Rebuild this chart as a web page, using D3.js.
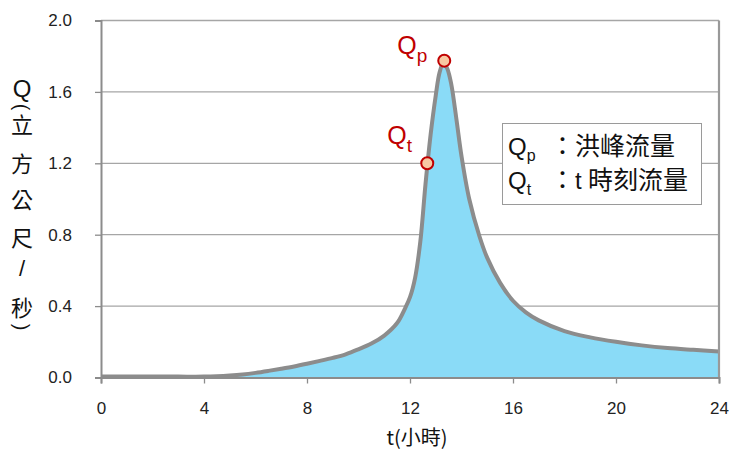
<!DOCTYPE html>
<html>
<head>
<meta charset="utf-8">
<script src="https://cdn.jsdelivr.net/npm/d3@7"></script>
<style>
  html, body { margin: 0; padding: 0; background: #fff; }
  svg { display: block; }
</style>
</head>
<body>
<svg id="chart" width="732" height="459"></svg>
<script>
// ---- data ----
const hours = [0,1,2,3,4,4.5,5,5.5,6,6.5,7,7.5,8,8.5,9,9.5,10,10.5,11,11.5,11.8,12,12.2,12.4,12.6,12.8,13,13.15,13.3,13.45,13.6,13.8,14,14.3,14.7,15,15.5,16,16.5,17,18,19,20,21,22,23,24];
const flow  = [0.005,0.005,0.005,0.005,0.005,0.007,0.011,0.017,0.026,0.037,0.049,0.062,0.077,0.093,0.11,0.13,0.158,0.19,0.235,0.305,0.385,0.45,0.56,0.76,1.08,1.36,1.58,1.71,1.765,1.73,1.645,1.45,1.24,1.0,0.79,0.67,0.53,0.43,0.365,0.32,0.26,0.225,0.2,0.18,0.165,0.155,0.146];
const xTicks = [0,4,8,12,16,20,24];
const yTicks = [0,0.4,0.8,1.2,1.6,2.0];
const markT = [12.67, 13.33];
const markQ = [1.2, 1.775];
const markSub = ["t", "p"];
const legendSubs = ["p", "t"];
const legendTexts = ["洪峰流量", "時刻流量"];
const yTitleChars = ["Q","(","立","方","公","尺","/","秒",")"];
const xTitle = "t(小時)";

// ---- layout ----
const svg = d3.select("#chart");
const L = 101, R = 719, T = 20.5, B = 377.5;
const x = d3.scaleLinear().domain([0,24]).range([L,R]);
const y = d3.scaleLinear().domain([0,2]).range([B,T]);
const gridCol = "#a6a6a6", axisCol = "#8c8c8c";
const font = "'Liberation Sans', Arial, sans-serif";
const cjk = "'Noto Sans CJK TC', 'Noto Sans CJK SC', sans-serif";

// gridlines
svg.append("g").selectAll("line").data(yTicks.filter(d => d > 0)).join("line")
  .attr("x1", L).attr("x2", R).attr("y1", d => y(d)).attr("y2", d => y(d))
  .attr("stroke", gridCol).attr("stroke-width", 1.3);

// area + line
const pts = hours.map((h,i) => [h, flow[i]]);
const crv = d3.curveCatmullRom.alpha(0.5);
const area = d3.area().x(d => x(d[0])).y0(y(0)).y1(d => y(d[1])).curve(crv);
const line = d3.line().x(d => x(d[0])).y(d => y(d[1])).curve(crv);
svg.append("path").datum(pts).attr("d", area).attr("fill", "#8adbf7");
svg.append("path").datum(pts).attr("d", line).attr("fill", "none")
  .attr("stroke", "#8c8c8c").attr("stroke-width", 4).attr("stroke-linejoin", "round");

// right border
svg.append("line").attr("x1", R).attr("x2", R).attr("y1", T).attr("y2", B)
  .attr("stroke", "#999").attr("stroke-width", 2.2);

// axes
const yAxis = svg.append("g").attr("transform", `translate(${L},0)`)
  .call(d3.axisLeft(y).tickValues(yTicks).tickFormat(d3.format(".1f")).tickSize(6).tickPadding(23));
const xAxis = svg.append("g").attr("transform", `translate(0,${B})`)
  .call(d3.axisBottom(x).tickValues(xTicks).tickSize(6).tickPadding(18));
[yAxis, xAxis].forEach(g => {
  g.select(".domain").attr("stroke", axisCol).attr("stroke-width", 2);
  g.selectAll(".tick line").attr("stroke", axisCol).attr("stroke-width", 1.3);
  g.selectAll("text").attr("fill", "#222").style("font-family", font).style("font-size", "17px");
});

// markers
svg.append("g").selectAll("circle").data(markT).join("circle")
  .attr("cx", d => x(d)).attr("cy", (d,i) => y(markQ[i])).attr("r", 6)
  .attr("fill", "#f8c8a2").attr("stroke", "#c00000").attr("stroke-width", 2);
const lbl = svg.append("g").selectAll("text").data(markT).join("text")
  .attr("x", (d,i) => x(d) - (i === 1 ? 47 : 40))
  .attr("y", (d,i) => y(markQ[i]) - (i === 1 ? 7 : 19))
  .attr("fill", "#c00000").style("font-family", font).style("font-size", "25px");
lbl.append("tspan").text("Q");
lbl.append("tspan").attr("dy", 8).style("font-size", "19px").text((d,i) => markSub[i]);

// legend
svg.append("rect").attr("x", 502.5).attr("y", 123.5).attr("width", 199).attr("height", 81)
  .attr("fill", "#fff").attr("stroke", "#9a9a9a").attr("stroke-width", 1);
legendSubs.forEach((s, i) => {
  const t = svg.append("text").attr("x", 508).attr("y", 155 + i * 34)
    .attr("fill", "#111").style("font-size", "24px");
  t.append("tspan").style("font-family", font).text("Q");
  t.append("tspan").attr("dy", 6).style("font-family", font).style("font-size", "16px").text(s);
  t.append("tspan").attr("x", 550).attr("dy", -6).style("font-family", cjk).style("font-size", "25px").text("：");
  if (i === 1) {
    t.append("tspan").attr("x", 575).style("font-family", font).text("t");
  }
  t.append("tspan").attr("x", i === 0 ? 575 : 588).style("font-family", cjk).style("font-size", "25px")
    .text(legendTexts[i]);
});

// y title
const yPos = [88, 107, 123, 162, 198, 236, 268, 306, 327];
yTitleChars.forEach((c, i) => {
  const t = svg.append("text").attr("fill", "#111")
    .style("font-family", (c === "Q" || c === "/" || c === "(" || c === ")") ? font : cjk)
    .style("font-size", c === "Q" ? "24px" : "22px")
    .attr("text-anchor", "middle").attr("dominant-baseline", "central");
  if (c === "(" || c === ")") {
    t.attr("transform", `translate(22,${yPos[i]}) rotate(90)`).style("font-size", "20px").text(c);
  } else {
    t.attr("x", 22).attr("y", yPos[i]).text(c);
  }
});

// x title
svg.append("text").attr("x", 417).attr("y", 445).attr("text-anchor", "middle")
  .attr("fill", "#111").style("font-family", cjk).style("font-size", "20px").text(xTitle);
</script>
</body>
</html>
